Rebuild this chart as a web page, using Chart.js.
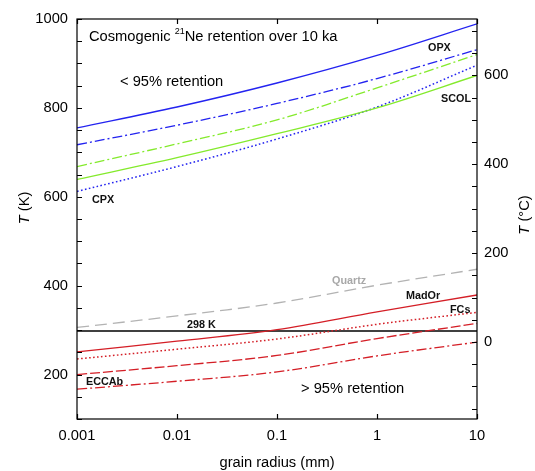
<!DOCTYPE html>
<html>
<head>
<meta charset="utf-8">
<script src="https://cdn.jsdelivr.net/npm/chart.js@4.4.1/dist/chart.umd.min.js"></script>
<style>
html,body{margin:0;padding:0;background:#fff;}
#wrap{width:535px;height:471px;}
</style>
</head>
<body>
<div id="wrap"><canvas id="c" width="535" height="471"></canvas></div>
<script>
// ---- data (grain radius in mm, temperature in K) ----
const radius = [0.001, 0.01, 0.1, 1, 10];
const xTickValues = [0.001, 0.01, 0.1, 1, 10];
const xTickLabels = ['0.001', '0.01', '0.1', '1', '10'];
const opxSolid   = [755, 802, 856, 918, 989];
const opxDashDot = [717, 761, 810, 866, 931];
const scolDashDot= [668, 719, 773, 845, 920];
const scolSolid  = [639, 688, 742, 800, 873];
const cpxDotted  = [612, 668, 730, 802, 896];
const quartz     = [306, 332, 361, 401, 437];
const madOr      = [251, 275, 301, 341, 379];
const fcs        = [235, 257, 280, 313, 340];
const redDashed  = [200, 220, 243, 281, 315];
const eccab      = [167, 185, 206, 242, 273];
const refTemp    = 298;
const kelvinTicksMajor = [200, 400, 600, 800, 1000];
const celsiusTicks = [-150,-100,-50,0,50,100,150,200,250,300,350,400,450,500,550,600,650,700];
const celsiusTicksMajor = [0, 200, 400, 600];

const FONT = '"Liberation Sans", Arial, Helvetica, sans-serif';
const BLUE = '#2323f0', GREEN = '#84ea2c', RED = '#d41e26', GRAY = '#b3b3b3';

function pts(arr){ return radius.map((r,i)=>({x:r, y:arr[i]})); }
function ds(arr, color, dash, w){
  return {data: pts(arr), borderColor: color, borderWidth: w||1.3, borderDash: dash||[],
          pointRadius: 0, fill: false, tension: 0.35};
}

const datasets = [
  ds(opxSolid, BLUE),
  ds(opxDashDot, BLUE, [10,3,2,3]),
  ds(scolDashDot, GREEN, [10,3,2,3]),
  ds(scolSolid, GREEN),
  ds(cpxDotted, BLUE, [1.6,2.4], 1.5),
  ds(quartz, GRAY, [12,6]),
  ds(madOr, RED),
  ds(fcs, RED, [1.6,2.4], 1.5),
  ds(redDashed, RED, [10,3]),
  ds(eccab, RED, [10,3,2,3]),
  {data:[{x:radius[0], y:refTemp},{x:radius[radius.length-1], y:refTemp}], borderColor:'#000',
   borderWidth:1.6, pointRadius:0, fill:false}
];

const deco = {
  id: 'deco',
  afterDraw(chart){
    const ctx = chart.ctx, a = chart.chartArea;
    const sx = chart.scales.x, sy = chart.scales.y, sc = chart.scales.yC;
    ctx.save();
    ctx.strokeStyle = '#000'; ctx.lineWidth = 1.2;
    ctx.strokeRect(a.left, a.top, a.right - a.left, a.bottom - a.top);
    const TL = 5;
    ctx.beginPath();
    sx.ticks.forEach(t=>{
      const px = Math.round(sx.getPixelForValue(t.value)) + 0.5;
      ctx.moveTo(px, a.bottom); ctx.lineTo(px, a.bottom - TL);
      ctx.moveTo(px, a.top); ctx.lineTo(px, a.top + TL);
    });
    sy.ticks.forEach(t=>{
      const py = Math.round(sy.getPixelForValue(t.value)) + 0.5;
      ctx.moveTo(a.left, py); ctx.lineTo(a.left + TL, py);
    });
    sc.ticks.forEach(t=>{
      const py = Math.round(sc.getPixelForValue(t.value)) + 0.5;
      ctx.moveTo(a.right, py); ctx.lineTo(a.right - TL, py);
    });
    ctx.stroke();

    // text annotations
    ctx.fillStyle = '#000';
    ctx.textBaseline = 'middle';
    ctx.textAlign = 'left';
    ctx.font = '14.7px ' + FONT;
    let x0 = 89, y0 = 37;
    const p1 = 'Cosmogenic ';
    ctx.fillText(p1, x0, y0);
    let w1 = ctx.measureText(p1).width;
    ctx.font = '9px ' + FONT;
    ctx.fillText('21', x0 + w1, y0 - 5);
    let w2 = ctx.measureText('21').width;
    ctx.font = '14.7px ' + FONT;
    ctx.fillText('Ne retention over 10 ka', x0 + w1 + w2, y0);
    ctx.fillText('< 95% retention', 120, 82);
    ctx.fillText('> 95% retention', 301, 389);

    ctx.font = 'bold 10.8px ' + FONT;
    const lab = (t, x, y, col) => { ctx.fillStyle = col || '#111'; ctx.fillText(t, x, y); };
    lab('OPX', 428, 48.5);
    lab('SCOL', 441, 99);
    lab('CPX', 92, 200);
    lab('Quartz', 332, 281, '#a8a8a8');
    lab('MadOr', 406, 296);
    lab('FCs', 450, 310);
    lab('298 K', 187, 325);
    lab('ECCAb', 86, 382);

    ctx.fillStyle = '#000';
    const vtitle = (cx, cy, rest) => {
      ctx.save();
      ctx.translate(cx, cy); ctx.rotate(-Math.PI/2);
      ctx.font = 'italic 14.7px ' + FONT;
      const wt = ctx.measureText('T').width;
      ctx.font = '14.7px ' + FONT;
      const wr = ctx.measureText(rest).width;
      const start = -(wt + wr)/2;
      ctx.textAlign = 'left';
      ctx.font = 'italic 14.7px ' + FONT;
      ctx.fillText('T', start, 0);
      ctx.font = '14.7px ' + FONT;
      ctx.fillText(rest, start + wt, 0);
      ctx.restore();
    };
    vtitle(25, 208, ' (K)');
    vtitle(525, 215, ' (\u00B0C)');
    ctx.textAlign = 'center';
    ctx.font = '14.7px ' + FONT;
    ctx.fillText('grain radius (mm)', 277, 463);
    ctx.restore();
  }
};

new Chart(document.getElementById('c'), {
  type: 'line',
  data: { datasets },
  options: {
    responsive: false,
    animation: false,
    layout: { padding: { top: 19, left: 0, right: 0, bottom: 0 } },
    plugins: { legend: { display: false }, tooltip: { enabled: false } },
    scales: {
      x: {
        type: 'logarithmic', position: 'bottom', min: 0.001, max: 10,
        grid: { display: false, drawTicks: false }, border: { display: false },
        afterBuildTicks: s => { s.ticks = xTickValues.map(v => ({value: v})); },
        afterFit: s => { s.height = 52; },
        ticks: { color: '#000', font: { family: FONT, size: 14.7 }, padding: 8, maxRotation: 0, autoSkip: false,
                 callback: (v, i) => xTickLabels[i] }
      },
      y: {
        type: 'linear', position: 'left', min: 100, max: 1000,
        grid: { display: false, drawTicks: false }, border: { display: false },
        afterFit: s => { s.width = 77; },
        ticks: { stepSize: 50, autoSkip: false, color: '#000', font: { family: FONT, size: 14.7 }, padding: 9,
                 callback: v => kelvinTicksMajor.includes(v) ? String(v) : '' }
      },
      yC: {
        type: 'linear', position: 'right', min: 100 - 273.15, max: 1000 - 273.15,
        grid: { display: false, drawTicks: false }, border: { display: false },
        afterBuildTicks: s => { s.ticks = celsiusTicks.map(v => ({value: v})); },
        afterFit: s => { s.width = 58; },
        ticks: { autoSkip: false, color: '#000', font: { family: FONT, size: 14.7 }, padding: 7,
                 callback: (v, i) => celsiusTicksMajor.includes(celsiusTicks[i]) ? String(celsiusTicks[i]) : '' }
      }
    }
  },
  plugins: [deco]
});
</script>
</body>
</html>
